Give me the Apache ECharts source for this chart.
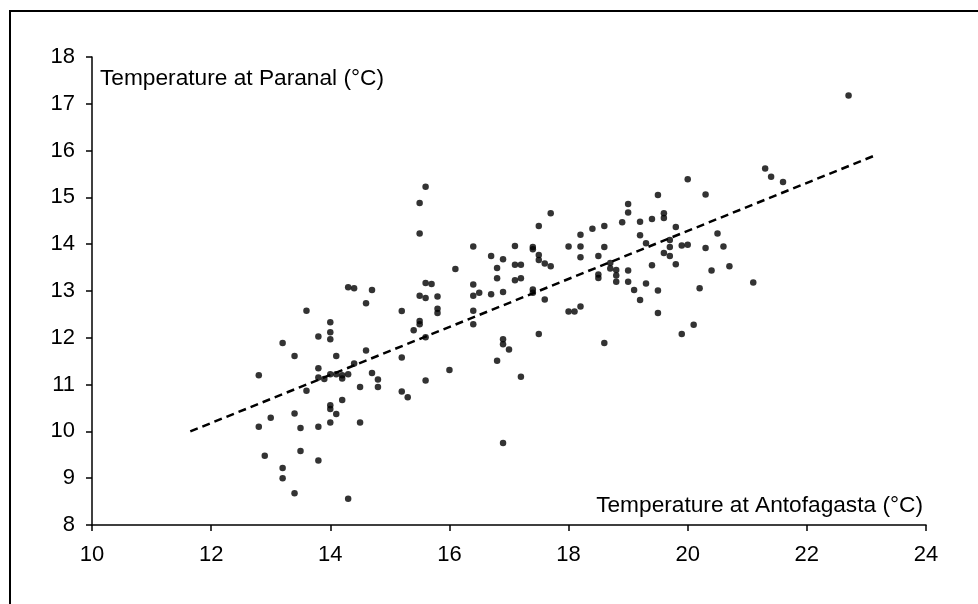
<!DOCTYPE html>
<html>
<head>
<meta charset="utf-8">
<title>Paranal vs Antofagasta</title>
<script src="https://cdn.jsdelivr.net/npm/echarts@6/dist/echarts.min.js"></script>
<style>
  html, body { margin: 0; padding: 0; background: #fff; }
  #chart { width: 978px; height: 604px; }
</style>
</head>
<body>
<div id="chart"></div>
<script>
// temperature at Antofagasta (x) and at Paranal (y)
var antofagasta = [
  14.3, 14.4, 14.7, 14.6, 13.6, 14.0, 14.0, 14.0, 13.8, 13.2,
  13.4, 14.1, 14.6, 12.8, 13.8, 13.8, 13.9, 14.0, 14.1, 14.2,
  14.2, 14.3, 14.4, 14.7, 14.8, 14.8, 14.5, 13.6, 14.2, 14.0,
  14.0, 14.1, 14.0, 13.4, 13.0, 12.8, 13.5, 13.8, 14.5, 12.9,
  13.5, 13.8, 13.2, 13.2, 13.4, 14.3, 15.2, 15.2, 15.2, 15.3,
  15.6, 15.6, 15.4, 15.5, 15.5, 15.5, 15.6, 15.6, 15.7, 15.8,
  15.8, 15.8,
  15.6, 15.5, 15.5, 16.1, 16.4, 16.7, 16.9, 16.8, 16.8, 17.1,
  17.1, 17.2, 17.1, 17.2, 17.4, 17.4, 17.5, 17.7, 17.5, 17.5,
  17.6, 17.7, 18.0, 18.2, 18.2, 18.2, 18.2, 18.0, 18.1, 16.0,
  16.4, 16.4, 16.5, 16.4, 16.4, 16.7, 16.9, 17.4, 17.4, 17.6,
  17.5, 16.9, 16.9, 17.0, 16.8, 17.2, 16.9,
  20.0, 19.5, 20.3, 19.0, 19.0, 18.9, 19.2, 19.4, 19.6, 19.6,
  18.6, 18.4, 18.6, 18.5, 19.2, 19.3, 19.8, 19.7, 19.7, 19.9,
  20.0, 19.6, 19.7, 19.8, 20.3, 20.5, 20.6, 20.7, 20.4, 19.4,
  18.7, 18.7, 18.8, 18.8, 18.5, 18.5, 18.8, 19.0, 19.0, 19.1,
  19.3, 19.2, 19.5, 20.2, 19.5, 18.6, 19.9, 20.1,
  22.7, 21.3, 21.4, 21.6, 21.1
];
var paranal = [
  13.08, 13.06, 13.02, 12.74, 12.58, 12.33, 12.12, 11.97, 12.03, 11.89,
  11.61, 11.61, 11.73, 11.20, 11.35, 11.15, 11.12, 11.22, 11.22, 11.20,
  11.13, 11.22, 11.45, 11.25, 11.11, 10.95, 10.95, 10.87, 10.67, 10.56,
  10.48, 10.37, 10.19, 10.38, 10.29, 10.10, 10.07, 10.10, 10.19, 9.48,
  9.58, 9.38, 9.22, 9.00, 8.68, 8.56, 12.57, 11.58, 10.85, 10.73,
  11.09, 12.01, 12.16, 12.36, 12.29, 12.90, 12.85, 13.17, 13.15, 12.88,
  12.62, 12.53,
  15.23, 14.88, 14.23, 13.47, 13.95, 13.75, 13.68, 13.49, 13.27, 13.96,
  13.56, 13.56, 13.23, 13.27, 13.94, 13.89, 14.39, 14.66, 13.77, 13.66,
  13.59, 13.53, 13.95, 14.20, 13.95, 13.72, 12.67, 12.56, 12.56, 11.31,
  13.14, 12.90, 12.96, 12.58, 12.29, 12.93, 12.98, 13.03, 12.96, 12.82,
  12.08, 11.97, 11.86, 11.75, 11.51, 11.17, 9.75,
  15.39, 15.05, 15.06, 14.86, 14.68, 14.47, 14.48, 14.54, 14.66, 14.56,
  14.39, 14.33, 13.94, 13.75, 14.19, 14.02, 14.37, 14.09, 13.94, 13.97,
  13.99, 13.81, 13.75, 13.57, 13.92, 14.23, 13.95, 13.53, 13.44, 13.55,
  13.60, 13.48, 13.45, 13.33, 13.35, 13.28, 13.20, 13.44, 13.20, 13.02,
  13.16, 12.81, 13.01, 13.06, 12.53, 11.89, 12.08, 12.28,
  17.18, 15.62, 15.44, 15.33, 13.18
];

// dashed trend line end points
var trendX = [11.65, 23.15];
var trendY = [10.0, 15.9];

var xTitle = 'Temperature at Antofagasta (°C)';
var yTitle = 'Temperature at Paranal (°C)';

var FONT = "'Liberation Sans', Arial, sans-serif";

var chart = echarts.init(document.getElementById('chart'));

var axisCommon = {
  type: 'value',
  splitLine: { show: false },
  axisLine: { lineStyle: { color: '#000', width: 1.5 } },
  axisTick: { inside: false, length: 6, lineStyle: { color: '#000', width: 1.5 } },
  axisLabel: { color: '#000', fontSize: 22, fontFamily: FONT }
};

var option = {
  animation: false,
  backgroundColor: '#fff',
  grid: { left: 92, top: 57, right: 52, bottom: 79 },
  xAxis: Object.assign({}, axisCommon, {
    min: 10, max: 24, interval: 2,
    axisLabel: Object.assign({}, axisCommon.axisLabel, { margin: 19 })
  }),
  yAxis: Object.assign({}, axisCommon, {
    min: 8, max: 18, interval: 1,
    axisLabel: Object.assign({}, axisCommon.axisLabel, { margin: 17 })
  }),
  graphic: [
    {
      type: 'rect',
      shape: { x: 10, y: 11, width: 1000, height: 1000 },
      style: { fill: 'none', stroke: '#000', lineWidth: 2 },
      silent: true
    },
    {
      type: 'text',
      left: 100, top: 67,
      style: { text: yTitle, font: '22.7px ' + FONT, fill: '#000' }
    },
    {
      type: 'text',
      right: 55, top: 494,
      style: { text: xTitle, font: '22.7px ' + FONT, fill: '#000' }
    }
  ],
  series: [
    {
      type: 'scatter',
      symbol: 'circle',
      symbolSize: 6.5,
      itemStyle: { color: '#000' },
      data: antofagasta.map(function (x, i) { return [x, paranal[i]]; })
    },
    {
      type: 'line',
      symbol: 'none',
      silent: true,
      lineStyle: { color: '#000', width: 2.5, type: [8, 5] },
      data: trendX.map(function (x, i) { return [x, trendY[i]]; })
    }
  ]
};

chart.setOption(option);
</script>
</body>
</html>
